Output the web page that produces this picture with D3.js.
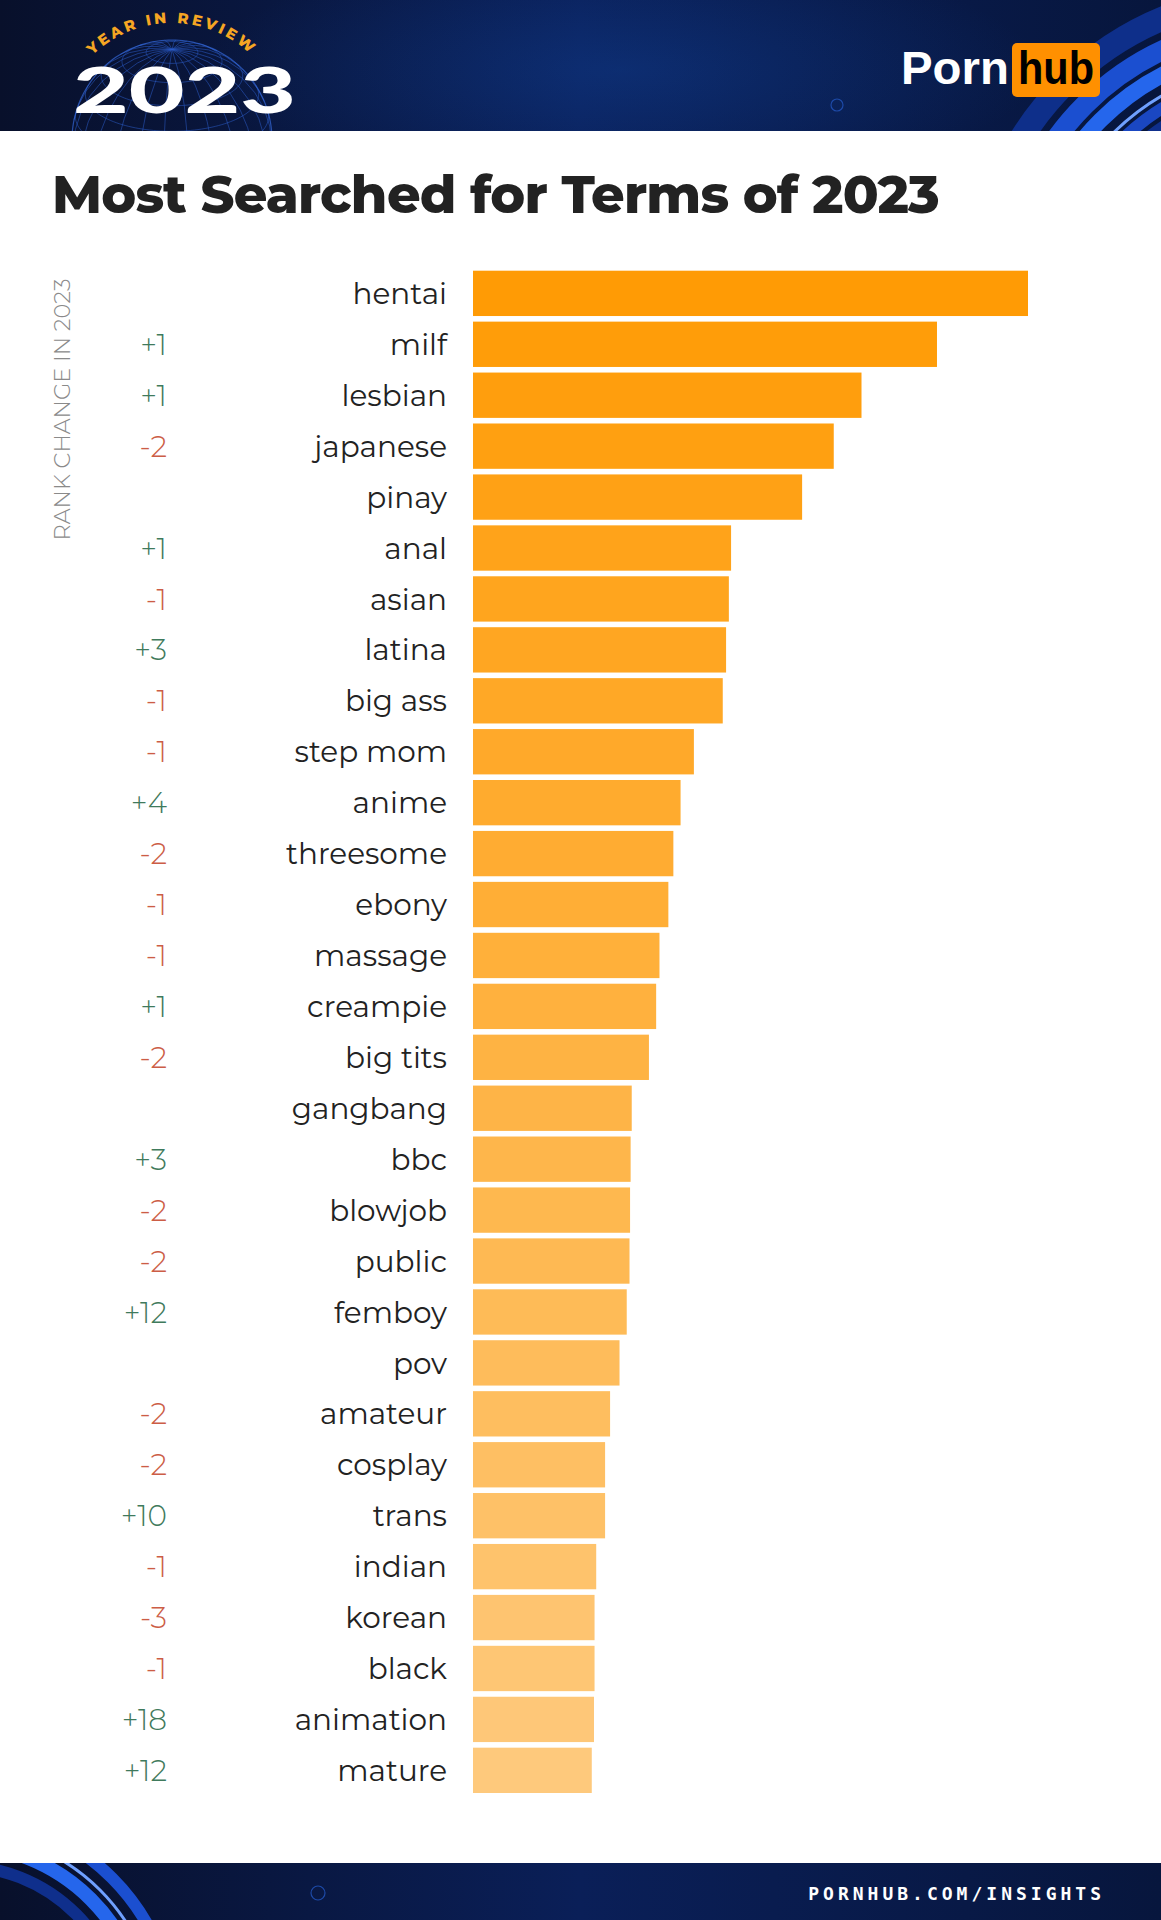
<!DOCTYPE html>
<html>
<head>
<meta charset="utf-8">
<script src="https://cdn.jsdelivr.net/npm/d3@7"></script>
<style>
  html, body { margin: 0; padding: 0; background: #ffffff; }
  svg { display: block; }
</style>
</head>
<body>
<script>
// ---------------- DATA ----------------
const terms = ["hentai","milf","lesbian","japanese","pinay","anal","asian","latina","big ass","step mom",
  "anime","threesome","ebony","massage","creampie","big tits","gangbang","bbc","blowjob","public",
  "femboy","pov","amateur","cosplay","trans","indian","korean","black","animation","mature"];
// relative search volume (hentai = 100)
const values = [100,83.6,70.0,65.0,59.3,46.5,46.1,45.6,45.0,39.8,
  37.4,36.1,35.2,33.6,33.0,31.7,28.6,28.4,28.3,28.2,
  27.7,26.4,24.7,23.8,23.8,22.2,21.9,21.9,21.8,21.4];
const rankChange = ["","+1","+1","-2","","+1","-1","+3","-1","-1",
  "+4","-2","-1","-1","+1","-2","","+3","-2","-2",
  "+12","","-2","-2","+10","-1","-3","-1","+18","+12"];
const title = "Most Searched for Terms of 2023";
const sideLabel = "RANK CHANGE IN 2023";
const footerText = "PORNHUB.COM/INSIGHTS";

// ---------------- LAYOUT ----------------
const W = 1161, H = 1920;
const svg = d3.select("body").append("svg").attr("width", W).attr("height", H);
const defs = svg.append("defs");

// header gradient
const hg = defs.append("linearGradient").attr("id","hg").attr("x1","0").attr("x2","1").attr("y1","0").attr("y2","0");
hg.append("stop").attr("offset","0").attr("stop-color","#08102b");
hg.append("stop").attr("offset","0.5").attr("stop-color","#0a1f58");
hg.append("stop").attr("offset","1").attr("stop-color","#07163d");
const rg = defs.append("radialGradient").attr("id","rg").attr("cx","0.5").attr("cy","0.5").attr("r","0.5");
rg.append("stop").attr("offset","0").attr("stop-color","#1450b0").attr("stop-opacity",0.3);
rg.append("stop").attr("offset","1").attr("stop-color","#1450b0").attr("stop-opacity",0);

defs.append("clipPath").attr("id","hclip").append("rect").attr("x",0).attr("y",0).attr("width",W).attr("height",131);
defs.append("clipPath").attr("id","fclip").append("rect").attr("x",0).attr("y",1863).attr("width",W).attr("height",57);

// ---------- header ----------
const header = svg.append("g").attr("clip-path","url(#hclip)");
header.append("rect").attr("x",0).attr("y",0).attr("width",W).attr("height",131).attr("fill","url(#hg)");
header.append("ellipse").attr("cx",620).attr("cy",70).attr("rx",420).attr("ry",120).attr("fill","url(#rg)");

// globe wireframe
const proj = d3.geoOrthographic().scale(100).translate([172,140]).rotate([10,-25]);
const gpath = d3.geoPath(proj);
header.append("path").datum(d3.geoGraticule().step([15,15])())
  .attr("d", gpath).attr("fill","none").attr("stroke","#2a5cc8").attr("stroke-width",0.9).attr("opacity",0.6);
header.append("path").datum({type:"Sphere"}).attr("d", gpath)
  .attr("fill","none").attr("stroke","#3468d8").attr("stroke-width",1.2).attr("opacity",0.7);

// "YEAR IN REVIEW" arc text
const arcR = 114, acx = 172, acy = 137, a0 = 0.62;
defs.append("path").attr("id","arcp").attr("d",
  `M ${acx - arcR*Math.cos(a0)} ${acy - arcR*Math.sin(a0)} A ${arcR} ${arcR} 0 0 1 ${acx + arcR*Math.cos(a0)} ${acy - arcR*Math.sin(a0)}`);
header.append("text").attr("font-family","Montserrat, 'Open Sans', sans-serif").attr("font-weight",800)
  .attr("font-size",15).attr("fill","#f5a623").attr("letter-spacing",3)
  .append("textPath").attr("href","#arcp").attr("startOffset","50%").attr("text-anchor","middle")
  .text("YEAR IN REVIEW");

header.append("text").attr("x",73).attr("y",113)
  .attr("font-family","Lato, 'Open Sans', sans-serif").attr("font-weight",900)
  .attr("font-size",62).attr("fill","#ffffff")
  .attr("textLength",223).attr("lengthAdjust","spacingAndGlyphs").text("2023");

// right arcs
const arcsSpec = [
  {r:305, w:24, c:"#0e2f8a"},
  {r:276, w:20, c:"#1b4fd0"},
  {r:254, w:16, c:"#2566ec"},
  {r:236, w:3,  c:"#6fa0ff"},
  {r:225, w:12, c:"#1a47c2"},
  {r:208, w:14, c:"#0f2f8c"}
];
arcsSpec.forEach(s => {
  header.append("circle").attr("cx",1280).attr("cy",300).attr("r",s.r)
    .attr("fill","none").attr("stroke",s.c).attr("stroke-width",s.w);
});
header.append("circle").attr("cx",837).attr("cy",105).attr("r",6).attr("fill","none").attr("stroke","#1d4aa8").attr("stroke-width",1.2);

// Pornhub logo
header.append("text").attr("x",901).attr("y",84)
  .attr("font-family","Arial, 'Liberation Sans', sans-serif").attr("font-weight",700)
  .attr("font-size",46).attr("fill","#ffffff").attr("textLength",108).attr("lengthAdjust","spacingAndGlyphs").text("Porn");
header.append("rect").attr("x",1012).attr("y",43).attr("width",88).attr("height",54).attr("rx",5).attr("fill","#ff9000");
header.append("text").attr("x",1056).attr("y",84).attr("text-anchor","middle")
  .attr("font-family","Arial, 'Liberation Sans', sans-serif").attr("font-weight",700)
  .attr("font-size",46).attr("fill","#000000").attr("textLength",76).attr("lengthAdjust","spacingAndGlyphs").text("hub");

// ---------- title ----------
svg.append("text").attr("x",52).attr("y",213)
  .attr("font-family","Montserrat, 'Open Sans', sans-serif").attr("font-weight",800)
  .attr("font-size",52.5).attr("fill","#222222").attr("letter-spacing",-0.8)
  .text(title);

// ---------- chart ----------
const x = d3.scaleLinear().domain([0,100]).range([473,1028]);
const y = d3.scaleBand().domain(terms).range([270.7,1793]).paddingInner(0.11).paddingOuter(0);
const color = d3.scaleLinear().domain([0, terms.length-1]).range(["#ff9b05","#fec97c"]).interpolate(d3.interpolateRgb);

const data = terms.map((t,i) => ({term:t, value:values[i], change:rankChange[i], i}));

svg.append("g").selectAll("rect").data(data).join("rect")
  .attr("x", x(0)).attr("y", d => y(d.term))
  .attr("width", d => x(d.value) - x(0)).attr("height", y.bandwidth())
  .attr("fill", d => color(d.i));

// term labels (axis)
const yAxis = d3.axisLeft(y).tickSize(0).tickPadding(0);
const ax = svg.append("g").attr("transform", `translate(447,0)`).call(yAxis);
ax.select(".domain").remove();
ax.selectAll("text")
  .attr("font-family","Montserrat, 'Open Sans', sans-serif").attr("font-weight",400)
  .attr("font-size",29.5).attr("fill","#222222").attr("dy","0.36em");

// rank change
svg.append("g").selectAll("text").data(data.filter(d => d.change !== "")).join("text")
  .attr("x",167).attr("y", d => y(d.term) + y.bandwidth()/2).attr("dy","0.36em")
  .attr("text-anchor","end")
  .attr("font-family","Montserrat, 'Open Sans', sans-serif").attr("font-weight",300)
  .attr("font-size",29.5)
  .attr("fill", d => d.change.startsWith("+") ? "#3f7a5c" : "#cc5d46")
  .text(d => d.change);

// side label
svg.append("text").attr("transform","translate(70,409.5) rotate(-90)")
  .attr("text-anchor","middle")
  .attr("font-family","Montserrat, 'Open Sans', sans-serif").attr("font-weight",300)
  .attr("font-size",22.5).attr("fill","#8a8a8a")
  .text(sideLabel);

// ---------- footer ----------
const footer = svg.append("g").attr("clip-path","url(#fclip)");
footer.append("rect").attr("x",0).attr("y",1863).attr("width",W).attr("height",57).attr("fill","url(#hg)");
[{r:215,w:12,c:"#1b4fd0"},{r:198,w:3,c:"#6fa0ff"},{r:185,w:14,c:"#2566ec"},{r:164,w:12,c:"#0f2f8c"}].forEach(s=>{
  footer.append("circle").attr("cx",-40).attr("cy",2030).attr("r",s.r)
    .attr("fill","none").attr("stroke",s.c).attr("stroke-width",s.w);
});
footer.append("circle").attr("cx",318).attr("cy",1893).attr("r",7).attr("fill","none").attr("stroke","#1d4aa8").attr("stroke-width",1.2);
footer.append("text").attr("x",1105).attr("y",1900).attr("text-anchor","end")
  .attr("font-family","'DejaVu Sans Mono', monospace").attr("font-weight",700)
  .attr("font-size",18).attr("fill","#ffffff").attr("letter-spacing",4)
  .text(footerText);
</script>
</body>
</html>
